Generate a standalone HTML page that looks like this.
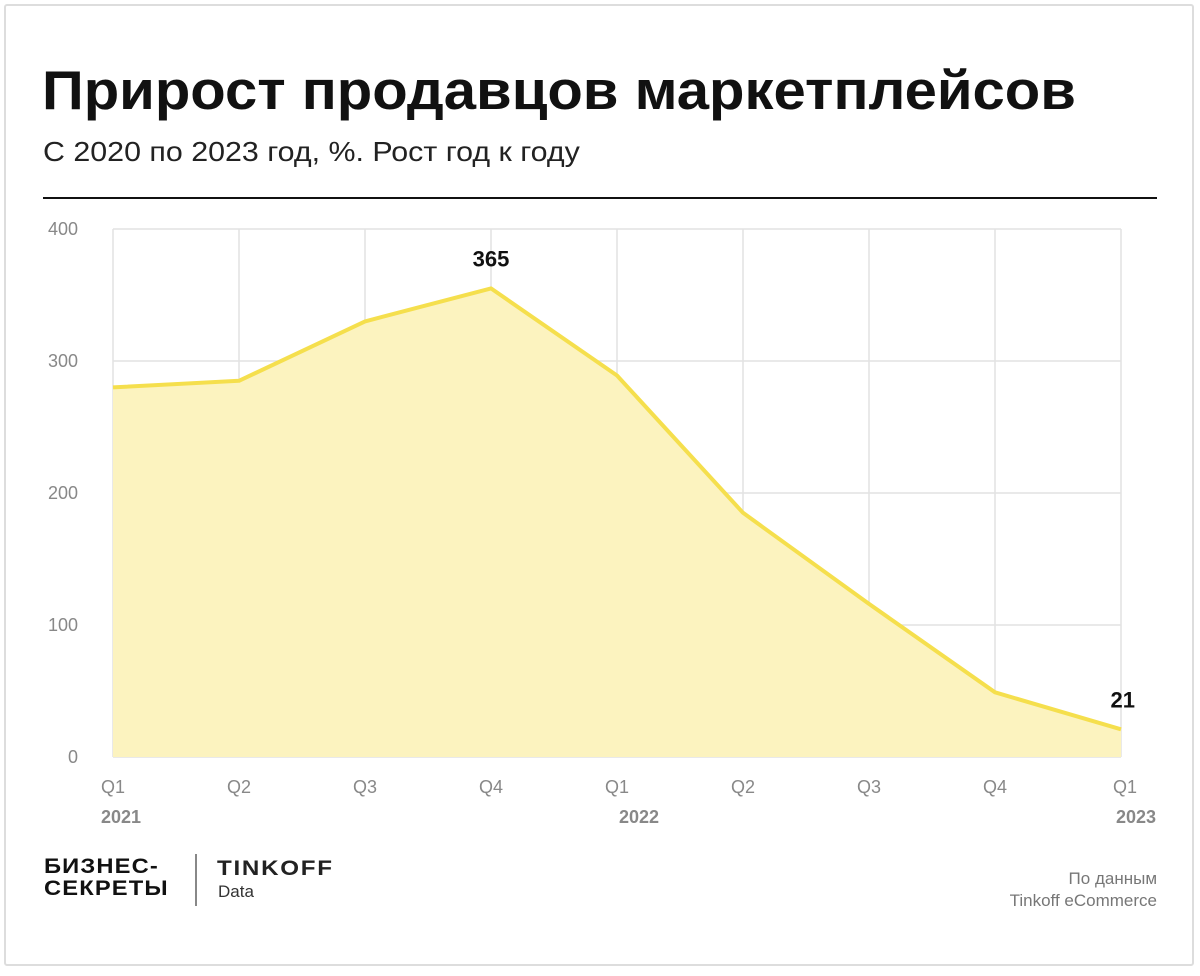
<!DOCTYPE html>
<html><head><meta charset="utf-8"><style>
body{margin:0;width:1200px;height:976px;background:#fff;overflow:hidden;font-family:"Liberation Sans",sans-serif;}
.frame{position:absolute;left:4px;top:4px;width:1190px;height:962px;border:2px solid #ddd;border-radius:3px;box-sizing:border-box;}
.t{position:absolute;white-space:nowrap;transform-origin:0 0;}
</style></head><body>
<div class="frame"></div>
<div class="t" style="left:42px;top:58px;font-size:55px;font-weight:bold;color:#111;transform:scaleX(1.055);">Прирост продавцов маркетплейсов</div>
<div class="t" style="left:43px;top:136px;font-size:28px;color:#222;transform:scaleX(1.085);">С 2020 по 2023 год, %. Рост год к году</div>
<div style="position:absolute;left:43px;top:197px;width:1114px;height:2px;background:#111;"></div>
<svg id="chart" width="1200" height="976" style="position:absolute;left:0;top:0"></svg>
<div class="t" style="left:44px;top:856px;font-size:21px;font-weight:bold;line-height:22px;color:#111;letter-spacing:1px;transform:scaleX(1.13);">БИЗНЕС-<br>СЕКРЕТЫ</div>
<div style="position:absolute;left:195px;top:854px;width:2px;height:52px;background:#888;"></div>
<div class="t" style="left:217px;top:857px;font-size:21px;font-weight:bold;color:#222;letter-spacing:1.5px;transform:scaleX(1.15);">TINKOFF</div>
<div class="t" style="left:218px;top:882px;font-size:17px;color:#333;">Data</div>
<div class="t" style="right:43px;top:868px;font-size:17px;color:#777;text-align:right;line-height:22px;">По данным<br>Tinkoff eCommerce</div>
<script>
const categories=["Q1","Q2","Q3","Q4","Q1","Q2","Q3","Q4","Q1"];
const years=["2021","","","","2022","","","","2023"];
const values=[280,285,330,355,289,185,116,49,21];
const labels=["","","","365","","","","","21"];
const yTicks=[0,100,200,300,400];
const svg=document.getElementById('chart');
const NS='http://www.w3.org/2000/svg';
const x0=113,x1=1121,yTop=229,yBot=757,yMax=400;
const X=i=>x0+(x1-x0)*i/(categories.length-1);
const Y=v=>yBot-(yBot-yTop)*v/yMax;
function mk(t,a){const e=document.createElementNS(NS,t);for(const k in a)e.setAttribute(k,a[k]);svg.appendChild(e);return e;}
yTicks.forEach(v=>{
 const l=mk('line',{x1:x0,x2:x1,y1:Y(v),y2:Y(v),stroke:'#e2e2e2','stroke-width':1.5});
 
 
 const t=mk('text',{x:78,y:Y(v)+6,'text-anchor':'end','font-size':18,fill:'#888','font-family':'Liberation Sans'});
 t.textContent=v;
 
 
});
categories.forEach((c,i)=>{
 const l=mk('line',{x1:X(i),x2:X(i),y1:yTop,y2:yBot,stroke:'#e2e2e2','stroke-width':1.5});
 
 
 const t=mk('text',{x:i===0?101:(i===categories.length-1?1137:X(i)),y:793,'text-anchor':i===0?'start':(i===categories.length-1?'end':'middle'),'font-size':18,fill:'#888','font-family':'Liberation Sans'});
 t.textContent=c;
 
 
 if(years[i]){
  const y=mk('text',{x:i===0?101:(i===categories.length-1?1156:X(i)+22),y:823,'text-anchor':i===0?'start':(i===categories.length-1?'end':'middle'),'font-size':18,'font-weight':'bold',fill:'#888','font-family':'Liberation Sans'});
  y.textContent=years[i];
  
  
 }
});
let d='M'+X(0)+','+yBot;
values.forEach((v,i)=>d+=' L'+X(i)+','+Y(v));
d+=' L'+X(values.length-1)+','+yBot+' Z';
const area=mk('path',{d:d,fill:'#fcf3bf'});


const line=mk('polyline',{points:values.map((v,i)=>X(i)+','+Y(v)).join(' '),fill:'none',stroke:'#f5df4d','stroke-width':4,'stroke-linejoin':'round'});


labels.forEach((s,i)=>{
 if(!s)return;
 const t=mk('text',{x:i===labels.length-1?X(i)+14:X(i),y:Y(values[i])-22,'text-anchor':i===labels.length-1?'end':'middle','font-size':22,'font-weight':'bold',fill:'#111','font-family':'Liberation Sans'});
 t.textContent=s;
 
 
});
</script>
</body></html>
